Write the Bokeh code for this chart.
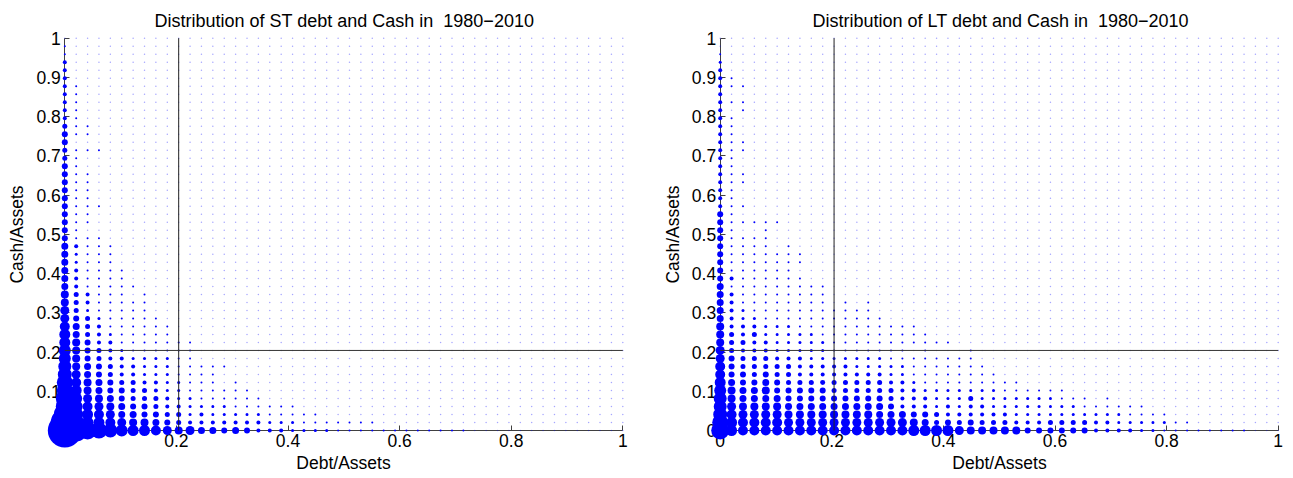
import numpy as np
from bokeh.plotting import figure
from bokeh.layouts import row
from bokeh.models import Range1d, FixedTicker, CustomJSTickFormatter
from bokeh.embed import file_html
from bokeh.resources import INLINE

# ---------------- data ----------------
# bin centres of the 50 x 50 grid (debt/assets on x, cash/assets on y)
bin_centres = np.linspace(0.0, 1.0, 50)
cutoff_bin = 10  # reference lines drawn at the 11th bin (~0.2)

titles = ["Distribution of ST debt and Cash in \u00a01980\u22122010",
          "Distribution of LT debt and Cash in \u00a01980\u22122010"]
x_label = "Debt/Assets"
y_label = "Cash/Assets"
x_ticks = [0, 0.2, 0.4, 0.6, 0.8, 1]
y_ticks = [0, 0.1, 0.2, 0.3, 0.4, 0.5, 0.6, 0.7, 0.8, 0.9, 1]

# frequency level of each cell, one string per cash row (top row = 1.0 first),
# one character per debt column starting at 0; "." = empty cell
st_rows = [
    ".", "1", "1", "3", "3", "3", "31", "31", "31", "31",
    "31", "411", "511", "5", "4111", "41", "51", "511", "511", "511",
    "511", "5111", "511", "511", "51", "5111",
    "63111", "62111", "62111", "631111", "631111", "6311111",
    "743111.1", "74311111", "84211111", "854211111",
    "9643111111", "a643211111", "a75331111111", "b75432111111",
    "b75433222211", "c76543322211111", "d8654332221111",
    "e9765443322111.1", "ea765544322111111", "fb8765444322111111",
    "fc9876554332222111111", "gda98665544232222211111",
    "heba987765433333332221111111",
    "igfedbaa9878665653332222" "111111111111",
]

lt_rows = [
    ".", ".", "1", "2", "3", "31", "311", "3", "311", "3.1",
    "31", "31", "31", "311", "311", "31", "31", "311", "311", "31",
    "31", "311", "51", "511111", "51..1", "51111",
    "51111.1", "51111111", "51111111", "5111111", "53111111",
    "6111111111", "6311111111", "6311111111.1.1", "63211111111111",
    "632211111111111",
    "7333222" "11111111111",
    "743422222" "1111111111",
    "7443322222" "11111111111",
    "8433322222" "111111" "1.1...1",
    "854443332222222" "11111111",
    "95444443333322222" "1111111",
    "955454433333333" "22" "11111111",
    "a65565444444444" "33" "2" "111111111",
    "b766755555444444" "33" "2222222" "111111",
    "c76666555555555" "4" "333" "222" "4" "2222222" "111" ".1",
    "c8" "7777" "666666666" "5" "333" "2" "3" "2" "33" "22222222" "111111",
    "d9" "8888" "77777777" "666" "55" "4" "333333" "2222222222" "1111",
    "ea" "9999" "88888888888" "7" "6" "4545" "4443334444" "33" "22222" "11",
    "fa" "999999999999999" "aaaa" "8" "77777" "555555" "3333" "22" "11111111",
]

# ---------------- style ----------------
level_px = {"1": 2, "2": 3, "3": 4, "4": 5, "5": 6, "6": 7, "7": 8, "8": 9,
            "9": 10, "a": 11, "b": 12, "c": 13, "d": 14, "e": 16, "f": 18,
            "g": 22, "h": 28, "i": 34}
FONT = "Liberation Sans"
FS = "17.5px"
BLUE = "#0000ff"
AXIS_COLOR = "#404040"
PX_X = 558.0   # pixels per unit on x
PX_Y = 392.3   # pixels per unit on y
TOP = 30       # title band height
FRAME_H = 448


def cells(rows):
    n = len(bin_centres)
    xs, ys, ds, ex, ey = [], [], [], [], []
    for i, s in enumerate(rows):
        r = len(rows) - 1 - i
        s = s.ljust(n, ".")
        for c, ch in enumerate(s):
            if ch == ".":
                ex.append(bin_centres[c]); ey.append(bin_centres[r])
            else:
                xs.append(bin_centres[c]); ys.append(bin_centres[r]); ds.append(level_px[ch])
    return xs, ys, ds, ex, ey


def panel(title, rows, width, left_pad, title_offset):
    # left_pad: pixels from the canvas edge to x = 0
    x0 = -left_pad / PX_X
    x1 = x0 + width / PX_X
    y1 = 1 + 7.7 / PX_Y
    y0 = y1 - FRAME_H / PX_Y
    p = figure(frame_width=width, frame_height=FRAME_H,
               x_range=Range1d(x0, x1), y_range=Range1d(y0, y1),
               output_backend="svg", toolbar_location=None,
               min_border_left=0, min_border_right=0,
               min_border_top=TOP, min_border_bottom=0)
    p.background_fill_color = "white"
    p.border_fill_color = "white"
    p.outline_line_color = None
    p.grid.visible = False

    p.title.text = title
    p.title.align = "left"
    p.title.offset = title_offset
    p.title.standoff = 0
    p.title.text_font = FONT
    p.title.text_font_size = "18px"
    p.title.text_font_style = "normal"
    p.title.text_color = "black"

    xs, ys, ds, ex, ey = cells(rows)
    p.scatter(ex, ey, size=1.5, fill_color=BLUE, fill_alpha=0.35, line_color=None)
    p.scatter(xs, ys, size=ds, fill_color=BLUE, line_color=None)

    cut = bin_centres[cutoff_bin]
    p.line([cut, cut], [0, 1], line_color="#222222", line_width=1)
    p.line([0, 1], [cut, cut], line_color="#333333", line_width=1)

    fmt = CustomJSTickFormatter(code="""
        if (Math.abs(tick) < 1e-9) return '0';
        if (Math.abs(tick - 1) < 1e-9) return '1';
        return tick.toFixed(1);""")
    for ax, ticks, lab in ((p.xaxis, x_ticks, x_label), (p.yaxis, y_ticks, y_label)):
        ax.level = "underlay"
        ax.fixed_location = 0
        ax.bounds = (0, 1)
        ax.ticker = FixedTicker(ticks=ticks)
        ax.formatter = fmt
        ax.axis_label = lab
        ax.axis_line_color = AXIS_COLOR
        ax.major_tick_line_color = AXIS_COLOR
        ax.major_tick_in = 5
        ax.major_tick_out = 0
        ax.minor_tick_in = 0
        ax.minor_tick_out = 0
        ax.major_label_text_font = FONT
        ax.major_label_text_font_size = FS
        ax.major_label_text_color = "black"
        ax.axis_label_text_font = FONT
        ax.axis_label_text_font_size = FS
        ax.axis_label_text_font_style = "normal"
        ax.axis_label_text_color = "black"
    p.xaxis.major_label_standoff = 3
    p.xaxis.axis_label_standoff = 3
    p.yaxis.major_label_standoff = 4
    p.yaxis.axis_label_standoff = 6
    return p


p1 = panel(titles[0], st_rows, 664, 64.3, 154)
p2 = panel(titles[1], lt_rows, 629, 55.7, 148)
layout = row(p1, p2)

open("out.html", "w").write(file_html(layout, INLINE))
